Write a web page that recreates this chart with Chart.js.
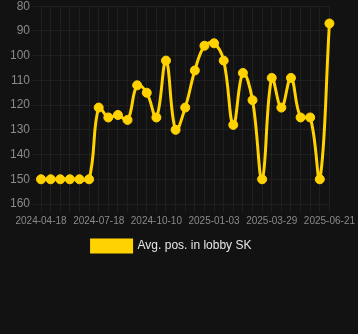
<!DOCTYPE html>
<html>
<head>
<meta charset="utf-8">
<script src="https://cdn.jsdelivr.net/npm/chart.js@4"></script>
<style>
    html, body { margin: 0; padding: 0; background: #121212; overflow: hidden; }
    #wrap { width: 358px; height: 338px; position: relative; margin-top: -4px; }
</style>
</head>
<body>
<div id="wrap"><canvas id="chart"></canvas></div>
<script>
// Dates of each point (only every 6th one is shown on the axis)
const dates = [
    '2024-04-18', '2024-05-03', '2024-05-18', '2024-06-02', '2024-06-17', '2024-07-03',
    '2024-07-18', '2024-08-01', '2024-08-15', '2024-08-29', '2024-09-12', '2024-09-26',
    '2024-10-10', '2024-10-24', '2024-11-07', '2024-11-21', '2024-12-05', '2024-12-19',
    '2025-01-03', '2025-01-17', '2025-01-31', '2025-02-14', '2025-02-28', '2025-03-14',
    '2025-03-29', '2025-04-12', '2025-04-26', '2025-05-10', '2025-05-24', '2025-06-07',
    '2025-06-21'
];

// Average position in lobby
const avgPos = [
    150, 150, 150, 150, 150, 150,
    121, 125, 124, 126, 112, 115,
    125, 102, 130, 121, 106, 96,
    95, 102, 128, 107, 118, 150,
    109, 121, 109, 125, 125, 150,
    87
];

const yTicks = { min: 80, max: 160, step: 10 };
const seriesLabel = 'Avg. pos. in lobby SK';

const gold = '#FFD200';
const gridColor = '#1f1f1f';
const tickColor = '#8a8a8a';

new Chart(document.getElementById('chart'), {
    type: 'line',
    data: {
        labels: dates,
        datasets: [{
            label: seriesLabel,
            data: avgPos,
            borderColor: gold,
            backgroundColor: gold,
            borderWidth: 3,
            pointRadius: 4.5,
            pointBorderWidth: 1,
            pointBackgroundColor: gold,
            pointBorderColor: gold,
            tension: 0.4,
            fill: false
        }]
    },
    options: {
        responsive: true,
        maintainAspectRatio: false,
        animation: false,
        layout: {
            padding: { left: 7, right: 22, top: 0, bottom: 72 }
        },
        scales: {
            x: {
                grid: { color: gridColor },
                border: { color: gridColor },
                ticks: {
                    color: tickColor,
                    font: { size: 10, family: 'Arial, "Liberation Sans", sans-serif' },
                    autoSkip: false,
                    maxRotation: 0,
                    callback: function (value, index) {
                        return index % 6 === 0 ? this.getLabelForValue(value) : '';
                    }
                }
            },
            y: {
                reverse: true,
                min: yTicks.min,
                max: yTicks.max,
                grid: { color: gridColor },
                border: { color: gridColor },
                ticks: {
                    stepSize: yTicks.step,
                    color: tickColor,
                    font: { size: 12, family: 'Arial, "Liberation Sans", sans-serif' }
                }
            }
        },
        plugins: {
            legend: {
                position: 'bottom',
                labels: {
                    color: '#e6e6e6',
                    boxWidth: 40,
                    boxHeight: 12,
                    font: { size: 12, family: 'Arial, "Liberation Sans", sans-serif' }
                }
            },
            tooltip: { enabled: false }
        }
    }
});
</script>
</body>
</html>
